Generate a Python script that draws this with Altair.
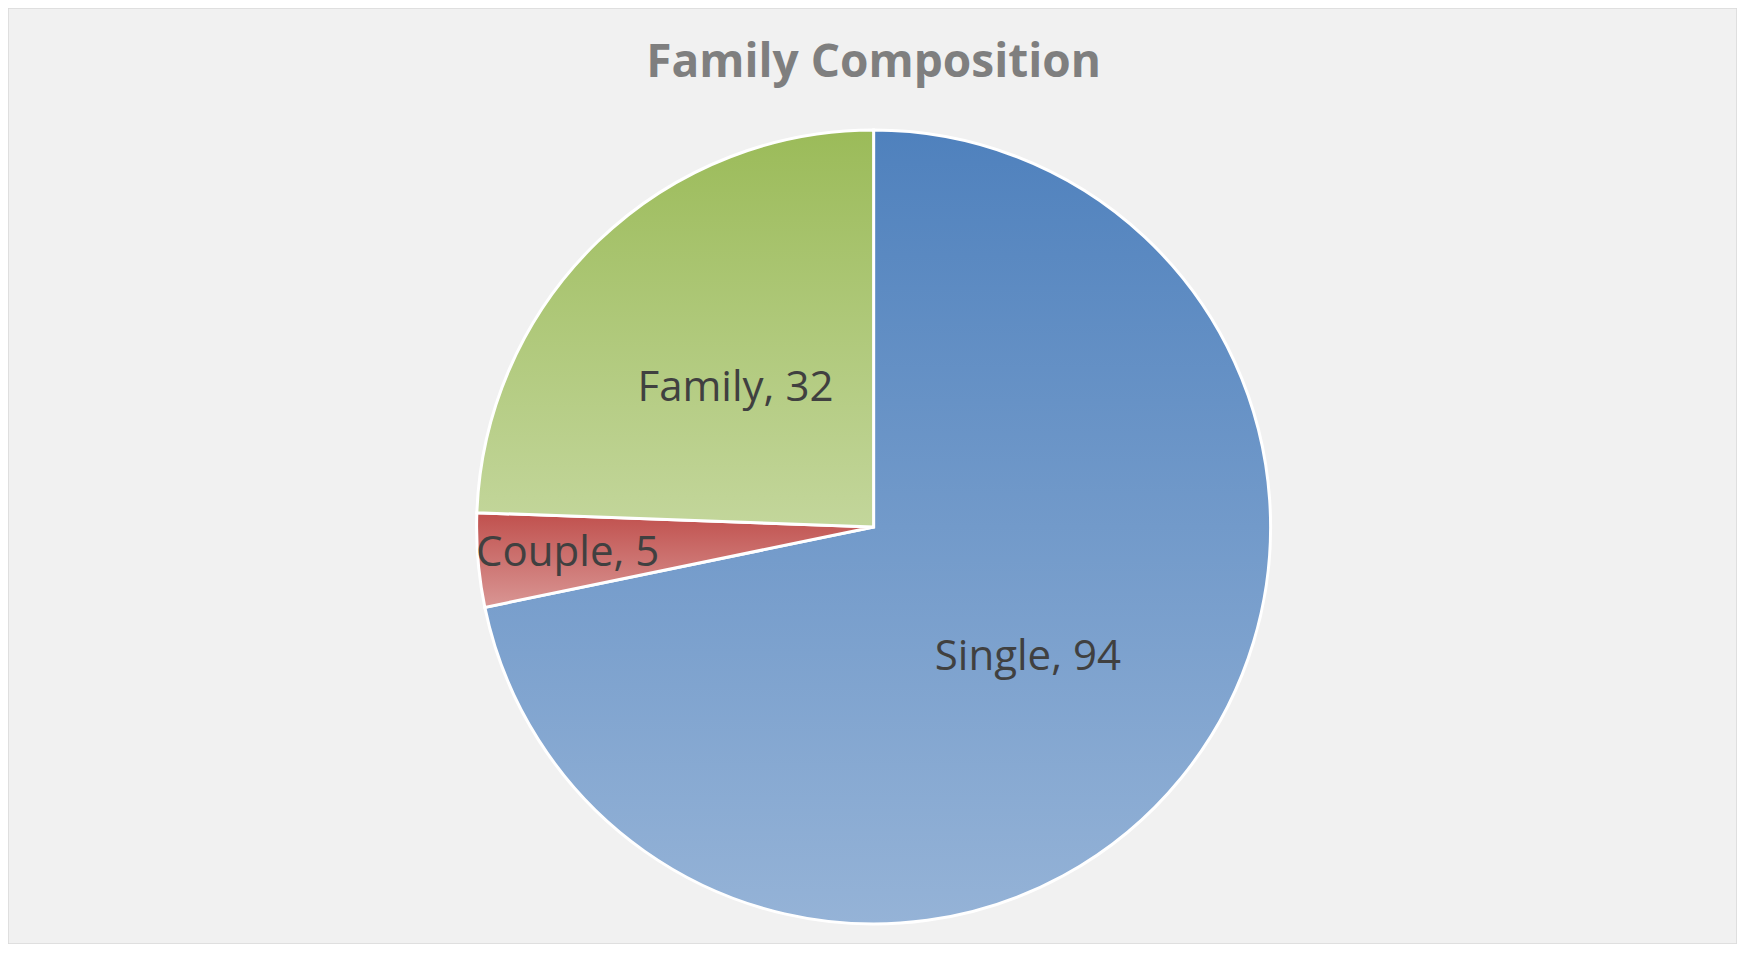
import altair as alt
import pandas as pd

# ---- data ----
categories = ["Single", "Couple", "Family"]
values = [94, 5, 32]
title_text = "Family Composition"

# gradient colours (top -> bottom) per slice
grad_top = {"Single": "#4F81BD", "Couple": "#C0504D", "Family": "#9BBB59"}
grad_bottom = {"Single": "#95B3D7", "Couple": "#D99694", "Family": "#C3D69B"}

df = pd.DataFrame({"category": categories, "value": values})
total = sum(values)

W, H = 1729, 936
CX, CY = 865.6, 519
R = 397

base = (
    alt.Chart(df)
    .transform_window(cum="sum(value)", frame=[None, 0])
    .transform_calculate(
        start="datum.cum - datum.value",
        mid="datum.cum - datum.value / 2",
        label="datum.category + ', ' + datum.value",
    )
)

theta_scale = alt.Scale(domain=[0, total])

layers = []
for cat in categories:
    grad = alt.Gradient(
        gradient="linear",
        stops=[
            alt.GradientStop(color=grad_top[cat], offset=0),
            alt.GradientStop(color=grad_bottom[cat], offset=1),
        ],
        x1=0, x2=0, y1=0, y2=1,
    )
    layers.append(
        base.transform_filter(alt.datum.category == cat)
        .mark_arc(radius=R, color=grad, stroke="white", strokeWidth=3)
        .encode(
            theta=alt.Theta("start:Q", scale=theta_scale),
            theta2="cum:Q",
            x=alt.value(CX),
            y=alt.value(CY),
        )
    )

text_props = dict(font="Open Sans", fontSize=42, color="#404040", align="center", baseline="middle")

inner_text = (
    base.transform_filter(alt.datum.category != "Couple")
    .mark_text(radius=199, dy=4, **text_props)
    .encode(
        theta=alt.Theta("mid:Q", scale=theta_scale),
        text="label:N",
        x=alt.value(CX),
        y=alt.value(CY),
    )
)
outer_text = (
    base.transform_filter(alt.datum.category == "Couple")
    .mark_text(radius=307, **text_props)
    .encode(
        theta=alt.Theta("mid:Q", scale=theta_scale),
        text="label:N",
        x=alt.value(CX),
        y=alt.value(CY),
    )
)

# chart title drawn inside the framed area (as in the original)
title_mark = (
    alt.Chart(pd.DataFrame({"t": [title_text]}))
    .mark_text(
        font="Open Sans",
        fontSize=46,
        fontWeight="bold",
        color="#7F7F7F",
        align="center",
        baseline="alphabetic",
    )
    .encode(text="t:N", x=alt.value(CX), y=alt.value(69))
)

chart = (
    alt.layer(*layers, inner_text, outer_text, title_mark)
    .properties(
        width=W,
        height=H,
        autosize=alt.AutoSizeParams(type="fit", contains="padding"),
        padding=0,
    )
    .configure(background="#F1F1F1")
    .configure_view(stroke="#D9D9D9", strokeWidth=1.5)
)

chart.save("out.html", embed_options={"renderer": "svg", "actions": False})
